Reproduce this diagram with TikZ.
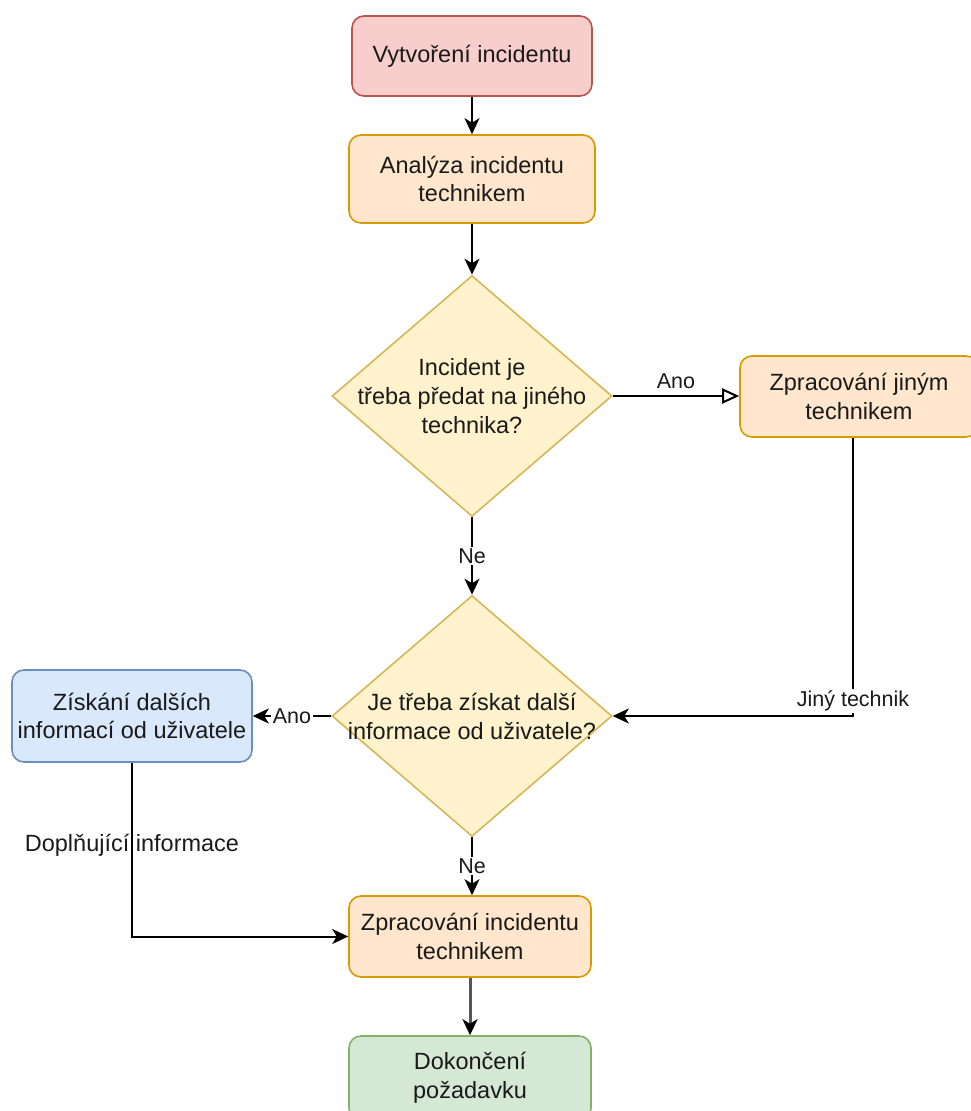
\documentclass[tikz,border=0pt]{standalone}
\usepackage{fontspec}
\setmainfont{Liberation Sans}
\usetikzlibrary{arrows.meta,shapes.geometric}

\definecolor{redfill}{HTML}{F8CECC}\definecolor{redline}{HTML}{B85450}
\definecolor{orafill}{HTML}{FFE6CC}\definecolor{oraline}{HTML}{D79B00}
\definecolor{yelfill}{HTML}{FFF2CC}\definecolor{yelline}{HTML}{D6B656}
\definecolor{blufill}{HTML}{DAE8FC}\definecolor{bluline}{HTML}{6C8EBF}
\definecolor{grnfill}{HTML}{D5E8D4}\definecolor{grnline}{HTML}{82B366}
\definecolor{txt}{HTML}{1A1A1A}
\definecolor{edgegray}{HTML}{555555}

\tikzset{
  box/.style={draw, rounded corners=12pt, line width=1.6pt, align=center,
    inner sep=0pt, text=txt, font=\fontsize{23.5}{28.5}\selectfont},
  redbox/.style={box, fill=redfill, draw=redline},
  orabox/.style={box, fill=orafill, draw=oraline},
  blubox/.style={box, fill=blufill, draw=bluline},
  grnbox/.style={box, fill=grnfill, draw=grnline},
  dia/.style={shape=diamond, draw=yelline, fill=yelfill, line width=1.6pt,
    inner sep=0pt, minimum width=280pt, minimum height=241pt},
  dtext/.style={align=center, inner sep=0pt, text=txt,
    font=\fontsize{23.5}{29}\selectfont},
  arr/.style={line width=2pt, draw=black,
    -{Stealth[length=16pt, width=15pt, inset=4.5pt]}},
  openarr/.style={line width=2pt, draw=black,
    -{Triangle[open, length=17pt, width=15pt, line width=2pt]}},
  grayarr/.style={line width=3pt, draw=edgegray,
    -{Stealth[length=16pt, width=15pt, inset=4.5pt, color=black]}},
  lab/.style={inner sep=1.5pt, text=txt, font=\fontsize{21.5}{24}\selectfont},
  biglab/.style={inner sep=1.5pt, text=txt, font=\fontsize{23.5}{28}\selectfont},
}

\begin{document}
\begin{tikzpicture}[x=1pt, y=-1pt]
\useasboundingbox (0,0) rectangle (971,1111);

% process steps
\node[redbox, minimum width=240pt, minimum height=80pt] (v1) at (472,56) {Vytvoření incidentu};
\node[orabox, minimum width=246pt, minimum height=88pt] (a1) at (472,179) {Analýza incidentu\\technikem};

\node[dia] (d1) at (472,396) {};
\node[dtext] (d1t) at (d1) {Incident je\\třeba předat na jiného\\technika?};

\node[orabox, minimum width=238pt, minimum height=81pt] (z1) at (859,396.5) {Zpracování jiným\\technikem};

\node[dia] (d2) at (472,716) {};
\node[dtext] (d2t) at (d2) {Je třeba získat další\\informace od uživatele?};

\node[blubox, minimum width=240pt, minimum height=92pt] (g1) at (132,716) {Získání dalších\\informací od uživatele};

\node[orabox, minimum width=242pt, minimum height=81pt] (p1) at (470,936.5) {Zpracování incidentu\\technikem};
\node[grnbox, minimum width=242pt, minimum height=84pt] (k1) at (470,1078) {Dokončení\\požadavku};

% connectors
\draw[arr] (v1) -- (a1);
\draw[arr] (a1) -- (d1);
\draw[openarr] (d1.east) -- node[lab, above=5pt] {Ano} (d1.east -| z1.west);
\draw[arr] (d1.south) -- node[lab, fill=white] {Ne} (d2.north);
\draw[arr] ([xshift=-6pt]z1.south) |- node[lab, fill=white, pos=0.473] {Jiný technik} (d2.east);
\draw[arr] (d2.west) -- node[lab, fill=white] {Ano} (g1.east);
\draw[arr] (d2.south) -- node[lab, fill=white] {Ne} (d2.south |- p1.north);
\draw[arr] (g1.south) |- node[biglab, pos=0.238] {Doplňující informace} (p1.west);
\draw[grayarr] (p1) -- (k1);
\end{tikzpicture}
\end{document}
